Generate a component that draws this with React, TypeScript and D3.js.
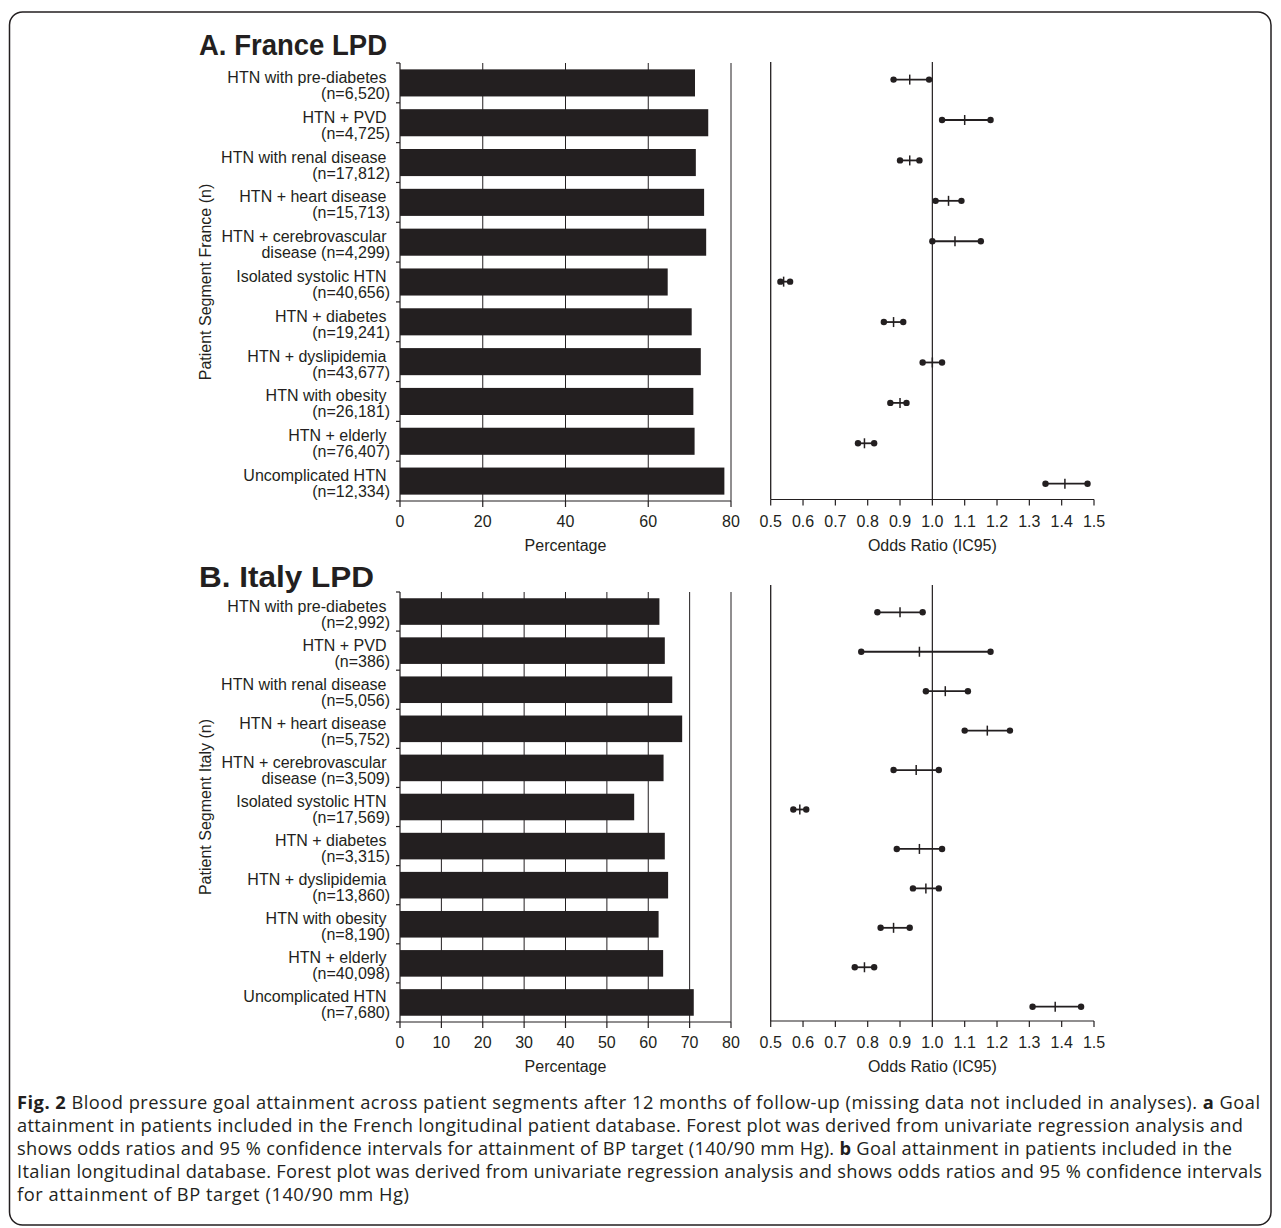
import React from 'react';
import * as d3 from 'd3';

// patient segments (same order in both countries)
const segments = [
  'HTN with pre-diabetes',
  'HTN + PVD',
  'HTN with renal disease',
  'HTN + heart disease',
  'HTN + cerebrovascular',
  'Isolated systolic HTN',
  'HTN + diabetes',
  'HTN + dyslipidemia',
  'HTN with obesity',
  'HTN + elderly',
  'Uncomplicated HTN',
];
const secondLinePrefix = ['', '', '', '', 'disease ', '', '', '', '', '', ''];

const franceN = ['6,520', '4,725', '17,812', '15,713', '4,299', '40,656', '19,241', '43,677', '26,181', '76,407', '12,334'];
const italyN = ['2,992', '386', '5,056', '5,752', '3,509', '17,569', '3,315', '13,860', '8,190', '40,098', '7,680'];

// goal attainment, %
const franceGoal = [71.3, 74.5, 71.5, 73.5, 74.0, 64.7, 70.5, 72.7, 70.9, 71.2, 78.4];
const italyGoal = [62.7, 64.0, 65.8, 68.2, 63.7, 56.6, 64.0, 64.8, 62.5, 63.6, 71.0];

// odds ratios with 95% CI
const franceOR = [0.93, 1.10, 0.93, 1.05, 1.07, 0.54, 0.88, 1.00, 0.90, 0.79, 1.41];
const franceLow = [0.88, 1.03, 0.90, 1.01, 1.00, 0.53, 0.85, 0.97, 0.87, 0.77, 1.35];
const franceHigh = [0.99, 1.18, 0.96, 1.09, 1.15, 0.56, 0.91, 1.03, 0.92, 0.82, 1.48];
const italyOR = [0.90, 0.96, 1.04, 1.17, 0.95, 0.59, 0.96, 0.98, 0.88, 0.79, 1.38];
const italyLow = [0.83, 0.78, 0.98, 1.10, 0.88, 0.57, 0.89, 0.94, 0.84, 0.76, 1.31];
const italyHigh = [0.97, 1.18, 1.11, 1.24, 1.02, 0.61, 1.03, 1.02, 0.93, 0.82, 1.46];

const franceTicks = [0, 20, 40, 60, 80];
const italyTicks = [0, 10, 20, 30, 40, 50, 60, 70, 80];
const orTicks = [0.5, 0.6, 0.7, 0.8, 0.9, 1.0, 1.1, 1.2, 1.3, 1.4, 1.5];

const captionLines: [string, boolean][][] = [
  [['Fig. 2', true], [' Blood pressure goal attainment across patient segments after 12 months of follow-up (missing data not included in analyses). ', false], ['a', true], [' Goal', false]],
  [['attainment in patients included in the French longitudinal patient database. Forest plot was derived from univariate regression analysis and', false]],
  [['shows odds ratios and 95 % confidence intervals for attainment of BP target (140/90 mm Hg). ', false], ['b', true], [' Goal attainment in patients included in the', false]],
  [['Italian longitudinal database. Forest plot was derived from univariate regression analysis and shows odds ratios and 95 % confidence intervals', false]],
  [['for attainment of BP target (140/90 mm Hg)', false]],
];
// right end of each caption line in the reference
const captionEnds = [1260, 1243, 1232, 1262, 409];

const ink = '#231f20';
const font = '"Liberation Sans", Arial, Helvetica, sans-serif';

type PanelProps = {
  title: string; titleLen: number; titleY: number;
  yTitle: string; n: string[]; goal: number[];
  or: number[]; lo: number[]; hi: number[]; ticks: number[];
  top: number; bottom: number; fTop: number; fBottom: number;
  rowFirst: number; rowLast: number;
};

function Panel(p: PanelProps) {
  const x = d3.scaleLinear().domain([0, 80]).range([400, 731]);
  const y = d3.scaleBand<string>().domain(segments).range([p.top, p.bottom]).paddingInner(0.32).paddingOuter(0.16);
  const fx = d3.scaleLinear().domain([0.5, 1.5]).range([770.7, 1094]);
  const fy = d3.scalePoint<string>().domain(segments).range([p.rowFirst, p.rowLast]);
  const bounds = d3.range(segments.length + 1).map(i => p.top + i * y.step());

  return (
    <g fontFamily={font} fill={ink}>
      <text x={199} y={p.titleY} fontSize={30} fontWeight="bold" textLength={p.titleLen} lengthAdjust="spacingAndGlyphs">{p.title}</text>

      {/* grid */}
      {p.ticks.filter(t => t > 0).map(t => (
        <line key={t} x1={x(t)} x2={x(t)} y1={p.top} y2={p.bottom} stroke={ink} strokeWidth={1} />
      ))}

      {/* bars */}
      {segments.map((s, i) => (
        <rect key={s} x={x(0)} y={y(s)} width={x(p.goal[i]) - x(0)} height={y.bandwidth()} fill={ink} />
      ))}

      {/* left axis */}
      <line x1={400} x2={400} y1={p.top} y2={p.bottom} stroke={ink} strokeWidth={1.2} />
      {bounds.map((b, i) => (
        <line key={i} x1={396} x2={400} y1={b} y2={b} stroke={ink} strokeWidth={1.2} />
      ))}

      {/* bottom axis */}
      <line x1={x(0)} x2={x(80)} y1={p.bottom} y2={p.bottom} stroke={ink} strokeWidth={1.2} />
      {p.ticks.map(t => (
        <g key={t}>
          <line x1={x(t)} x2={x(t)} y1={p.bottom} y2={p.bottom + 6} stroke={ink} strokeWidth={1.2} />
          <text x={x(t)} y={p.bottom + 26} fontSize={16} textAnchor="middle">{t}</text>
        </g>
      ))}
      <text x={(x(0) + x(80)) / 2} y={p.bottom + 50} fontSize={16} textAnchor="middle">Percentage</text>

      {/* category labels */}
      {segments.map((s, i) => {
        const c = (y(s) as number) + y.bandwidth() / 2;
        return (
          <g key={s} fontSize={16}>
            <text x={386.5} y={c} textAnchor="end">{s}</text>
            <text x={390} y={c + 16} textAnchor="end">{secondLinePrefix[i] + '(n=' + p.n[i] + ')'}</text>
          </g>
        );
      })}
      <text transform={`translate(211,${(p.top + p.bottom) / 2}) rotate(-90)`} fontSize={16} textAnchor="middle">{p.yTitle}</text>

      {/* forest plot */}
      <line x1={fx(0.5)} x2={fx(0.5)} y1={p.fTop} y2={p.fBottom} stroke={ink} strokeWidth={1.3} />
      <line x1={fx(1)} x2={fx(1)} y1={p.fTop} y2={p.fBottom} stroke={ink} strokeWidth={1.2} />
      <line x1={fx(0.5)} x2={fx(1.5)} y1={p.fBottom} y2={p.fBottom} stroke={ink} strokeWidth={1.2} />
      {orTicks.map(t => (
        <g key={t}>
          <line x1={fx(t)} x2={fx(t)} y1={p.fBottom} y2={p.fBottom + 6} stroke={ink} strokeWidth={1.2} />
          <text x={fx(t)} y={p.bottom + 26} fontSize={16} textAnchor="middle">{t.toFixed(1)}</text>
        </g>
      ))}
      <text x={fx(1)} y={p.bottom + 50} fontSize={16} textAnchor="middle">Odds Ratio (IC95)</text>

      {segments.map((s, i) => {
        const cy = fy(s) as number;
        return (
          <g key={s}>
            <line x1={fx(p.lo[i])} x2={fx(p.hi[i])} y1={cy} y2={cy} stroke={ink} strokeWidth={1.8} />
            <line x1={fx(p.or[i])} x2={fx(p.or[i])} y1={cy - 5} y2={cy + 5} stroke={ink} strokeWidth={1.5} />
            <circle cx={fx(p.lo[i])} cy={cy} r={3.2} fill={ink} />
            <circle cx={fx(p.hi[i])} cy={cy} r={3.2} fill={ink} />
          </g>
        );
      })}
    </g>
  );
}

export default function App() {
  return (
    <svg width={1281} height={1228} style={{ position: 'absolute', left: 0, top: 0, background: '#fff' }}>
      <rect x={0} y={0} width={1281} height={1228} fill="#fff" />
      <rect x={9.5} y={12} width={1261.5} height={1213} rx={13} fill="none" stroke={ink} strokeWidth={1.5} />

      <Panel title="A. France LPD" titleLen={188} titleY={55} yTitle="Patient Segment France (n)"
        n={franceN} goal={franceGoal} or={franceOR} lo={franceLow} hi={franceHigh} ticks={franceTicks}
        top={63} bottom={501} fTop={62} fBottom={499.5} rowFirst={79.6} rowLast={483.7} />
      <Panel title="B. Italy LPD" titleLen={175} titleY={586.7} yTitle="Patient Segment Italy (n)"
        n={italyN} goal={italyGoal} or={italyOR} lo={italyLow} hi={italyHigh} ticks={italyTicks}
        top={592} bottom={1022} fTop={585} fBottom={1021} rowFirst={612.3} rowLast={1006.7} />

      <g fontFamily="'Open Sans', Lato, sans-serif" fontSize={18.3} fill={ink}>
        {captionLines.map((line, i) => (
          <text key={i} x={17} y={1109 + i * 23} textLength={captionEnds[i] - 17} lengthAdjust="spacing">
            {line.map(([t, b], j) => (
              <tspan key={j} fontWeight={b ? 'bold' : 'normal'}>{t}</tspan>
            ))}
          </text>
        ))}
      </g>
    </svg>
  );
}
